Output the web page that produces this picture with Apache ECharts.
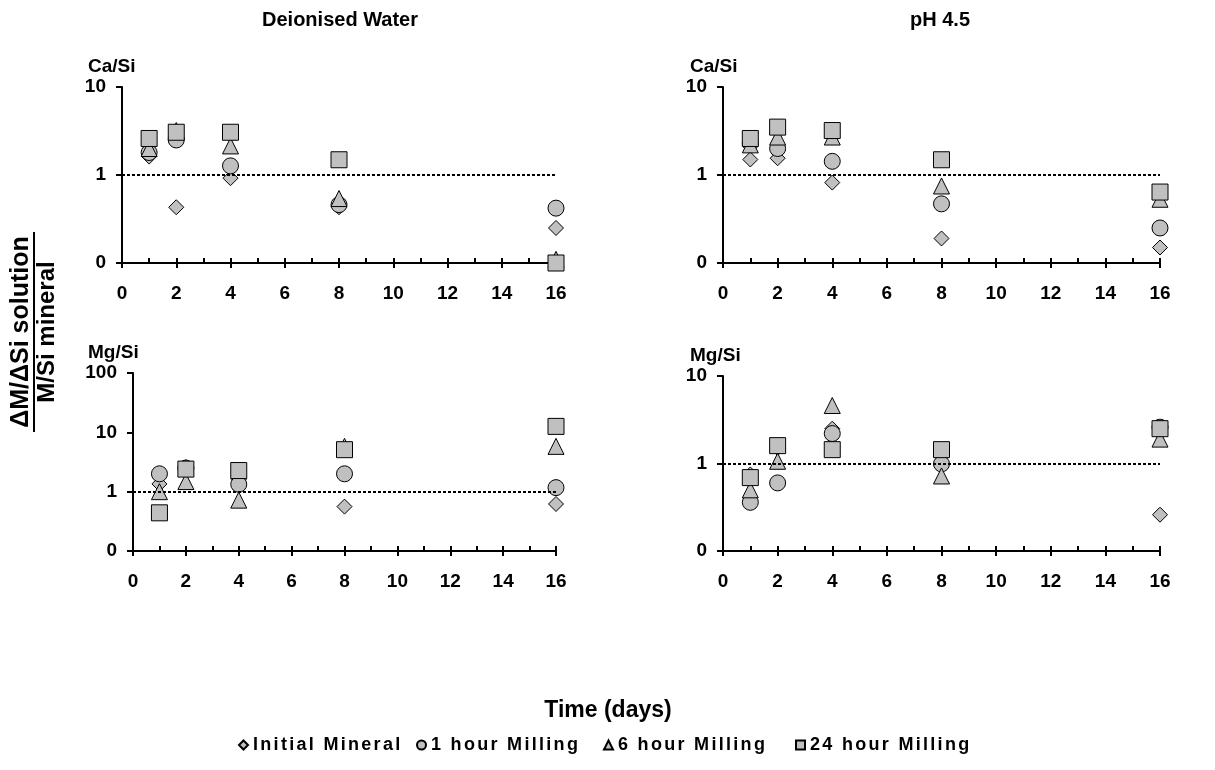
<!DOCTYPE html>
<html>
<head>
<meta charset="utf-8">
<script src="https://cdn.jsdelivr.net/npm/echarts@6/dist/echarts.min.js"></script>
<style>
  html, body { margin: 0; padding: 0; background: #fff; }
  #chart { width: 1215px; height: 770px; }
</style>
</head>
<body>
<div id="chart"></div>
<script>
// Sampling days
const days = [1, 2, 4, 8, 16];
const seriesNames = ['Initial Mineral', '1 hour Milling', '6 hour Milling', '24 hour Milling'];
const symbols = ['diamond', 'circle', 'triangle', 'rect'];

// Deionised water, Ca/Si
const dwCaInitial = [1.62, 0.43, 0.92, 0.43, 0.25];
const dwCa1h      = [1.8, 2.5, 1.27, 0.46, 0.42];
const dwCa6h      = [2.0, 3.2, 2.14, 0.54, 0.11];
const dwCa24h     = [2.6, 3.06, 3.06, 1.49, 0.1];

// pH 4.5, Ca/Si
const phCaInitial = [1.5, 1.55, 0.82, 0.19, 0.15];
const phCa1h      = [2.3, 2.0, 1.43, 0.47, 0.25];
const phCa6h      = [2.2, 2.7, 2.7, 0.75, 0.53];
const phCa24h     = [2.6, 3.5, 3.2, 1.49, 0.64];

// Deionised water, Mg/Si
const dwMgInitial = [1.35, 2.6, 1.6, 0.56, 0.62];
const dwMg1h      = [2.0, 2.5, 1.33, 2.0, 1.17];
const dwMg6h      = [1.0, 1.48, 0.72, 5.8, 5.8];
const dwMg24h     = [0.44, 2.4, 2.27, 5.1, 12.6];

// pH 4.5, Mg/Si
const phMgInitial = [0.75, 1.5, 2.5, 1.0, 0.26];
const phMg1h      = [0.36, 0.6, 2.2, 0.99, 2.6];
const phMg6h      = [0.5, 1.06, 4.6, 0.72, 1.9];
const phMg24h     = [0.69, 1.6, 1.44, 1.44, 2.5];

const panelData = [
  [dwCaInitial, dwCa1h, dwCa6h, dwCa24h],
  [phCaInitial, phCa1h, phCa6h, phCa24h],
  [dwMgInitial, dwMg1h, dwMg6h, dwMg24h],
  [phMgInitial, phMg1h, phMg6h, phMg24h]
];
const yMax = [10, 10, 100, 10];
const xTicks = { min: 0, max: 16, interval: 2 };

const FONT = "'Liberation Sans', Arial, sans-serif";
const grids = [
  { left: 122, top: 87, width: 434, height: 176 },
  { left: 723, top: 87, width: 437, height: 176 },
  { left: 133, top: 373, width: 423, height: 178 },
  { left: 723, top: 376, width: 437, height: 175 }
];

// Legend captions get a little extra tracking when the canvas draws them
(function () {
  const proto = CanvasRenderingContext2D.prototype;
  const fill = proto.fillText;
  proto.fillText = function (text) {
    if (seriesNames.indexOf(text) >= 0 && 'letterSpacing' in this) {
      const prev = this.letterSpacing;
      this.letterSpacing = '2.3px';
      fill.apply(this, arguments);
      this.letterSpacing = prev;
      return;
    }
    return fill.apply(this, arguments);
  };
})();

const xAxes = [], yAxes = [], series = [];
grids.forEach((g, i) => {
  // axis line with inward major ticks and minor ticks
  xAxes.push({
    type: 'value', gridIndex: i, min: xTicks.min, max: xTicks.max, interval: xTicks.interval,
    axisLine: { show: true, lineStyle: { color: '#000', width: 2 } },
    axisTick: { show: true, inside: true, length: 5, lineStyle: { color: '#000', width: 2 } },
    minorTick: { show: true, splitNumber: 2, length: 5, lineStyle: { color: '#000', width: 2 } },
    axisLabel: { show: false },
    splitLine: { show: false }
  });
  // outer half of the crossing major ticks, carrying the labels
  xAxes.push({
    type: 'value', gridIndex: i, min: xTicks.min, max: xTicks.max, interval: xTicks.interval,
    position: 'bottom',
    axisLine: { show: false },
    axisTick: { show: true, inside: false, length: 5, lineStyle: { color: '#000', width: 2 } },
    axisLabel: { show: true, margin: 21, color: '#000', fontFamily: FONT, fontWeight: 'bold', fontSize: 19 },
    splitLine: { show: false }
  });
  yAxes.push({
    type: 'log', logBase: 10, gridIndex: i, min: 0.1, max: yMax[i],
    axisLine: { show: true, lineStyle: { color: '#000', width: 2 } },
    axisTick: { show: true, inside: false, length: 6, lineStyle: { color: '#000', width: 2 } },
    axisLabel: {
      margin: 16, color: '#000', fontFamily: FONT, fontWeight: 'bold', fontSize: 19,
      formatter: v => (v < 1 ? '0' : String(Math.round(v)))
    },
    splitLine: { show: false }
  });
  panelData[i].forEach((vals, k) => {
    const s = {
      type: 'scatter', name: seriesNames[k], xAxisIndex: i * 2, yAxisIndex: i,
      symbol: symbols[k], symbolSize: k === 0 ? 15 : 16, clip: false,
      itemStyle: { color: '#c0c0c0', borderColor: '#000', borderWidth: 1, opacity: 1 },
      data: days.map((d, j) => [d, vals[j]])
    };
    if (k === 0) {
      s.markLine = {
        silent: true, symbol: ['none', 'none'], label: { show: false },
        lineStyle: { color: '#000', width: 2, type: [3, 2] },
        data: [[{ coord: [xTicks.min, 1] }, { coord: [xTicks.max, 1] }]]
      };
    }
    series.push(s);
  });
});

const titleStyle = { fontFamily: FONT, fontWeight: 'bold', fill: '#000' };
const graphic = [
  { type: 'text', x: 340, y: 20, style: Object.assign({ text: 'Deionised Water', fontSize: 20, align: 'center', verticalAlign: 'middle' }, titleStyle) },
  { type: 'text', x: 940, y: 20, style: Object.assign({ text: 'pH 4.5', fontSize: 20, align: 'center', verticalAlign: 'middle' }, titleStyle) },
  { type: 'text', x: 88, y: 67, style: Object.assign({ text: 'Ca/Si', fontSize: 19, align: 'left', verticalAlign: 'middle' }, titleStyle) },
  { type: 'text', x: 690, y: 67, style: Object.assign({ text: 'Ca/Si', fontSize: 19, align: 'left', verticalAlign: 'middle' }, titleStyle) },
  { type: 'text', x: 88, y: 353, style: Object.assign({ text: 'Mg/Si', fontSize: 19, align: 'left', verticalAlign: 'middle' }, titleStyle) },
  { type: 'text', x: 690, y: 356, style: Object.assign({ text: 'Mg/Si', fontSize: 19, align: 'left', verticalAlign: 'middle' }, titleStyle) },
  { type: 'text', x: 21, y: 332, rotation: Math.PI / 2, style: Object.assign({ text: 'ΔM/ΔSi solution', fontSize: 25, align: 'center', verticalAlign: 'middle' }, titleStyle) },
  { type: 'line', shape: { x1: 34, y1: 232, x2: 34, y2: 432 }, style: { stroke: '#000', lineWidth: 2 } },
  { type: 'text', x: 47, y: 332, rotation: Math.PI / 2, style: Object.assign({ text: 'M/Si mineral', fontSize: 24, align: 'center', verticalAlign: 'middle' }, titleStyle) },
  { type: 'text', x: 608, y: 711, style: Object.assign({ text: 'Time (days)', fontSize: 23, align: 'center', verticalAlign: 'middle' }, titleStyle) }
];

// one legend block per series so each entry keeps its own slot
const legendLeft = [233, 411, 598, 790];
const legends = seriesNames.map((n, k) => ({
  data: [n], top: 731, left: legendLeft[k], itemWidth: 9, itemHeight: 9,
  textStyle: { fontFamily: FONT, fontWeight: 'bold', fontSize: 18, color: '#000' }
}));

const chart = echarts.init(document.getElementById('chart'), null, { renderer: 'canvas' });
chart.setOption({
  animation: false,
  backgroundColor: '#fff',
  grid: grids,
  xAxis: xAxes,
  yAxis: yAxes,
  legend: legends,
  graphic: graphic,
  series: series
});
</script>
</body>
</html>
